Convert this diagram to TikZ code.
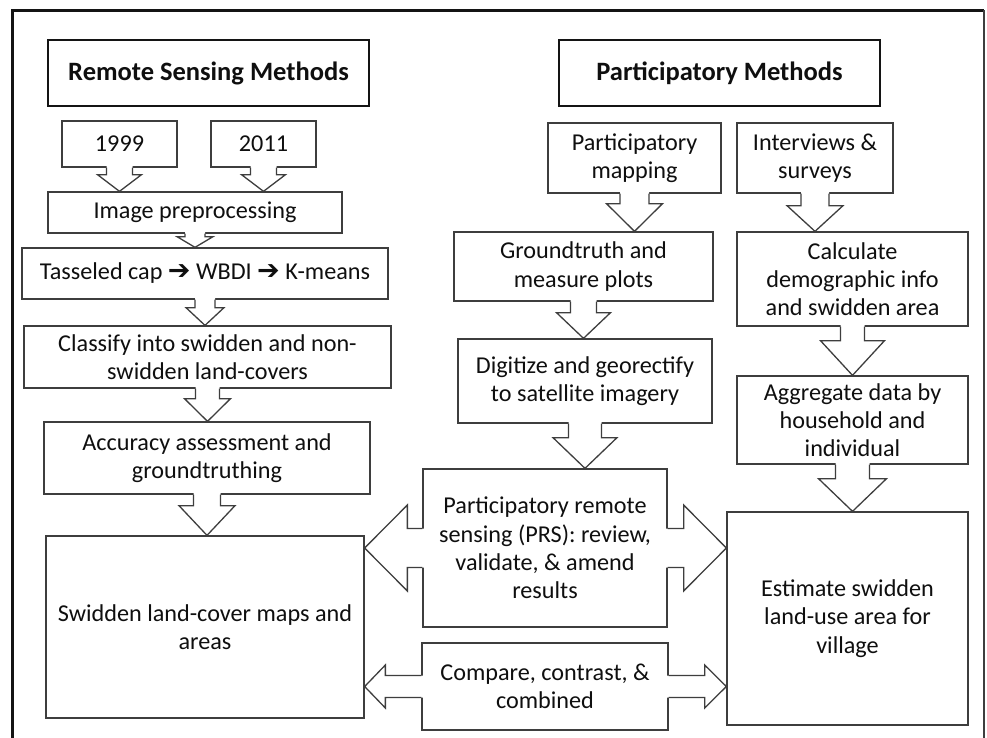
\documentclass[tikz,border=0pt]{standalone}
\usepackage{fontspec}
\setmainfont{Carlito}
\newfontfamily\symf{DejaVu Sans}
\usetikzlibrary{calc}
\definecolor{boxc}{RGB}{62,62,62}
\definecolor{txt}{RGB}{15,15,15}
\definecolor{framec}{RGB}{20,20,20}
\tikzset{
  box/.style={draw=boxc, line width=1.3pt, fill=white, inner sep=0pt, align=center, text=txt,
    font=\fontsize{24.2}{28.3}\selectfont},
  titlebox/.style={box, draw=framec, line width=2.7pt, font=\fontsize{26.5}{30}\selectfont\bfseries},
  arr/.style={draw=boxc, line width=1.3pt, line join=miter},
  frameline/.style={draw=framec, line width=3pt},
  framelineR/.style={draw=boxc, line width=1.6pt}
}
% #1 base, #2 tip, #3 shaft half width, #4 head half width, #5 shaft length
\newcommand\blockarrow[5]{%
  \coordinate (ba) at #1;
  \coordinate (bt) at #2;
  \coordinate (bc) at ($(ba)!#5pt!(bt)$);
  \coordinate (bz) at ($(ba)!-1.6pt!(bt)$);
  \fill[white] ($(bz)!#3pt!90:(bt)$) -- ($(bc)!#3pt!90:(bt)$) -- ($(bc)!#4pt!90:(bt)$) -- (bt)
     -- ($(bc)!#4pt!-90:(bt)$) -- ($(bc)!#3pt!-90:(bt)$) -- ($(bz)!#3pt!-90:(bt)$) -- cycle;
  \draw[arr] ($(ba)!#3pt!90:(bt)$) -- ($(bc)!#3pt!90:(bt)$) -- ($(bc)!#4pt!90:(bt)$) -- (bt)
     -- ($(bc)!#4pt!-90:(bt)$) -- ($(bc)!#3pt!-90:(bt)$) -- ($(ba)!#3pt!-90:(bt)$);
}
\newcommand\harr{{\symf\bfseries\fontsize{27}{24}\selectfont ➔}}
\begin{document}
\begin{tikzpicture}[x=1pt,y=-1pt]
\useasboundingbox (0,0) rectangle (987,737);
\clip (0,0) rectangle (987,737);
\fill[white] (0,0) rectangle (987,737);
% outer frame
\draw[frameline] (12,750) -- (12,10) -- (984,10);
\draw[framelineR] (984,10) -- (984,750);

% titles
\node[titlebox, minimum width=321pt, minimum height=66pt] (rsm) at (208.5,73) {Remote Sensing Methods};
\node[titlebox, minimum width=321pt, minimum height=66pt] (pm) at (719.5,73) {Participatory Methods};

% left column
\node[box, minimum width=115pt, minimum height=46pt] (y1999) at (119.5,144) {1999};
\node[box, minimum width=105pt, minimum height=46pt] (y2011) at (263.5,144) {2011};
\node[box, minimum width=294pt, minimum height=41pt] (prep) at (195,212.5) {Image preprocessing};
\node[box, minimum width=366pt, minimum height=51pt] (tass) at (205,273.5) {Tasseled cap \harr{} WBDI \harr{} K-means};
\node[box, minimum width=367pt, minimum height=62pt] (class) at (207.5,357) {Classify into swidden and non-\\swidden land-covers};
\node[box, minimum width=326pt, minimum height=72pt] (acc) at (207,458) {Accuracy assessment and\\groundtruthing};
\node[box, minimum width=318pt, minimum height=182pt] (swid) at (205,627) {Swidden land-cover maps and\\areas};

% right part
\node[box, minimum width=173pt, minimum height=70pt] (pmap) at (634.5,158) {Participatory\\mapping};
\node[box, minimum width=156pt, minimum height=70pt] (intv) at (815,158) {Interviews \&\\surveys};
\node[box, minimum width=259pt, minimum height=69pt] (gt) at (583.5,266.5) {Groundtruth and\\measure plots};
\node[box, minimum width=254pt, minimum height=84pt] (dig) at (585,381) {Digitize and georectify\\to satellite imagery};
\node[box, minimum width=244pt, minimum height=158pt] (prs) at (545,548) {Participatory remote\\sensing (PRS): review,\\validate, \& amend\\results};
\node[box, minimum width=246pt, minimum height=87pt] (cmp) at (545,686.5) {Compare, contrast, \&\\combined};
\node[box, minimum width=231pt, minimum height=94pt] (calc) at (852.5,279) {Calculate\\demographic info\\and swidden area};
\node[box, minimum width=231pt, minimum height=88pt] (agg) at (852.5,420) {Aggregate data by\\household and\\individual};
\node[box, minimum width=241pt, minimum height=213pt] (est) at (847.5,618.5) {Estimate swidden\\land-use area for\\village};

% block arrows
\blockarrow{(y1999.south)}{(y1999.south |- prep.north)}{13}{22}{7}
\blockarrow{(y2011.south)}{(y2011.south |- prep.north)}{13}{22}{7}
\blockarrow{(prep.south)}{(prep.south |- tass.north)}{10}{18}{3}
\blockarrow{(tass.south)}{(tass.south |- class.north)}{10}{19}{8}
\blockarrow{(class.south)}{(class.south |- acc.north)}{12}{23}{10}
\blockarrow{(acc.south)}{(acc.south |- swid.north)}{13.5}{28}{11}
\blockarrow{(pmap.south)}{(pmap.south |- gt.north)}{14.5}{28}{10}
\blockarrow{(intv.south)}{(intv.south |- calc.north)}{14}{28}{12}
\blockarrow{(gt.south)}{(gt.south |- dig.north)}{13}{27}{11}
\blockarrow{(dig.south)}{(dig.south |- prs.north)}{16.5}{32}{14}
\blockarrow{(calc.south)}{(calc.south |- agg.north)}{12}{32}{14}
\blockarrow{(agg.south)}{(agg.south |- est.north)}{17}{34}{14}
\blockarrow{(prs.west)}{(prs.west -| swid.east)}{19.5}{43}{15}
\blockarrow{(prs.east)}{(prs.east -| est.west)}{19.5}{43}{16}
\blockarrow{(cmp.west)}{(cmp.west -| swid.east)}{11}{21.5}{36}
\blockarrow{(cmp.east)}{(cmp.east -| est.west)}{11}{21.5}{36}
\end{tikzpicture}
\end{document}
